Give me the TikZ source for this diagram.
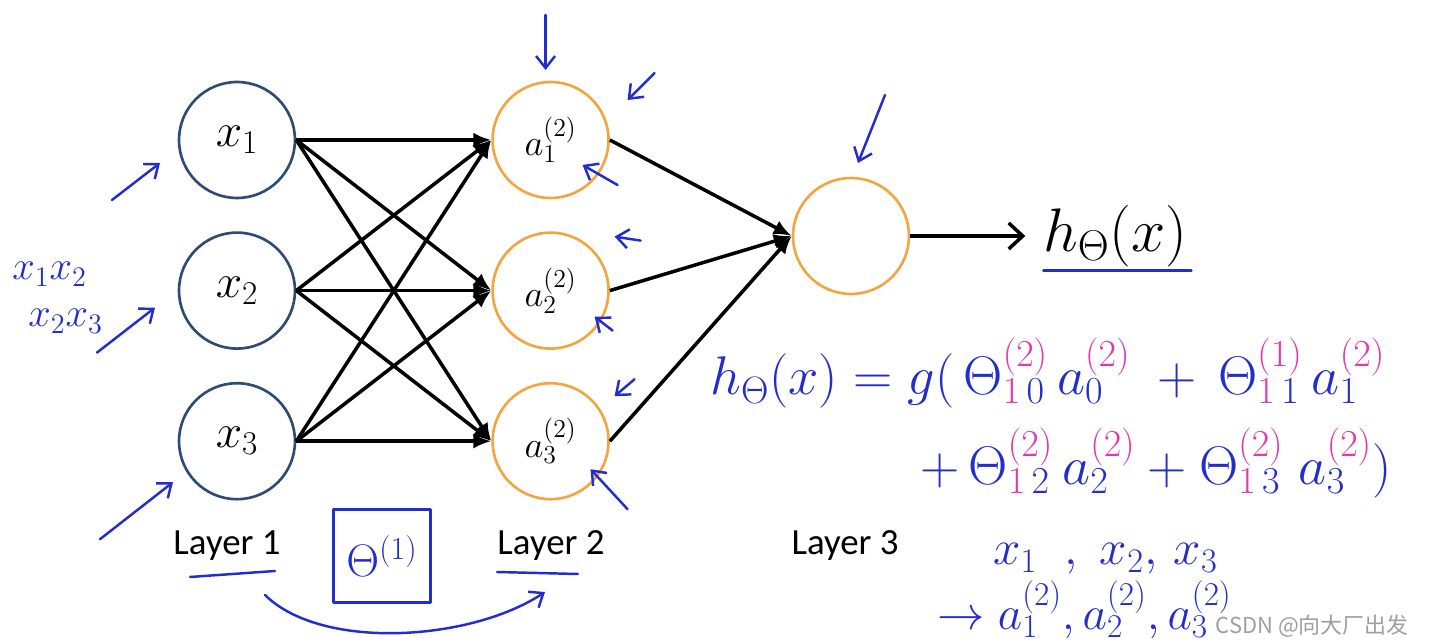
\RequirePackage{fix-cm}
\documentclass[tikz,border=0pt]{standalone}
\usepackage{fontspec}
\newfontfamily\calib{Carlito}
\newfontfamily\cjk{Noto Sans CJK SC}
\usetikzlibrary{positioning,arrows.meta,calc}
\definecolor{inblue}{RGB}{45,75,115}
\definecolor{hidorg}{RGB}{242,165,65}
\definecolor{pero}{RGB}{35,45,205}
\definecolor{rozova}{RGB}{225,55,175}
\newcommand\ruz[1]{{\color{rozova}#1}}
\tikzset{
  vstup/.style={circle,draw=inblue,line width=1.5pt,minimum size=2.32cm,inner sep=0pt,font=\fontsize{27}{32}\selectfont},
  skryty/.style={circle,draw=hidorg,line width=1.5pt,minimum size=2.32cm,inner sep=0pt,font=\fontsize{21}{25}\selectfont},
  sip/.style={-{Latex[length=3.6mm,width=3mm]},line width=2pt},
  vystup/.style={-{Straight Barb[length=2.8mm,width=5.2mm]},line width=2pt},
  vrstva/.style={font=\calib\fontsize{21}{25}\selectfont},
  pero/.style={draw=pero,line width=1.4pt,line cap=round,line join=round},
  sipka/.style={pero,-{Straight Barb[length=2.4mm,width=3.8mm]}},
  rukopis/.style={text=pero,inner sep=0pt,anchor=base west,font=\fontsize{31}{36}\selectfont},
}
\begin{document}
\begin{tikzpicture}[x=0.02cm,y=-0.02cm]
  \path[fill=white,use as bounding box] (0,0) rectangle (1430,644);
  % vrstvy site
  \node[vstup] (x1) at (237,140) {$x_1$};
  \node[vstup,below=0.64cm of x1] (x2) {$x_2$};
  \node[vstup,below=0.64cm of x2] (x3) {$x_3$};
  \node[skryty,right=3.9cm of x1] (a1) {$a_1^{(2)}$};
  \node[skryty,right=3.9cm of x2] (a2) {$a_2^{(2)}$};
  \node[skryty,right=3.9cm of x3] (a3) {$a_3^{(2)}$};
  \node[skryty] (out) at (851,236) {};
  \node[right=2.3cm of out,inner sep=10pt,font=\fontsize{35}{40}\selectfont] (hx) {$h_\Theta(x)$};
  \foreach \i in {1,2,3}{
    \foreach \j in {1,2,3} \draw[sip] (x\i.east) -- (a\j.west);
    \draw[sip] (a\i.east) -- (out.west);
  }
  \draw[vystup] (out.east) -- (hx.west);
  \node[vrstva] (l1) at (227,546) {Layer 1};
  \node[vrstva] (l2) at (551,546) {Layer 2};
  \node[vrstva] (l3) at (845,546) {Layer 3};
  % poznamky perem
  \foreach \n/\sx/\sy/\ex/\ey in {x1/-125/60/-77/23, x2/-140/62/-82/17, x3/-137/98/-64/41,
      a1/-5/-125/-5/-70, a1/104/-67/77/-40, a1/67/45/32/25, a2/90/-50/64/-54, a2/62/40/44/26,
      a3/84/-62/64/-45, a3/77/68/40/28, out/34/-141/7/-73}
    \draw[sipka] ($(\n)+(\sx,\sy)$) -- ($(\n)+(\ex,\ey)$);
  \draw[pero] ($(hx.south west)+(18,-14)$) -- ($(hx.south east)+(-14,-14)$);
  \draw[pero] ($(l1)+(-37,31)$) -- ($(l1)+(48,25)$);
  \draw[pero] ($(l2)+(-54,26)$) -- ($(l2)+(27,28)$);
  \node[pero,minimum width=1.94cm,minimum height=1.86cm,text=pero,font=\fontsize{26}{30}\selectfont] (tbox) at (382,556) {$\Theta^{(1)}$};
  \draw[sipka] ($(l1)+(38,49)$) .. controls ($(l1)+(95,105)$) and ($(l2)+(-80,95)$) .. ($(l2)+(-6,46)$);
  \node[rukopis,font=\fontsize{23}{27}\selectfont] (p12) at (12,280) {$x_1x_2$};
  \node[rukopis,font=\fontsize{23}{27}\selectfont] (p23) at (28,327) {$x_2x_3$};
  \node[rukopis] (rov1) at (710,395) {$h_\Theta(x) = g(\,\Theta^{\ruz{(2)}}_{\ruz{1}\,0}\,a^{\ruz{(2)}}_0 \;+\, \Theta^{\ruz{(1)}}_{\ruz{1}\,1}\,a^{\ruz{(2)}}_1$};
  \node[rukopis] (rov2) at (920,485) {$+\,\Theta^{\ruz{(2)}}_{\ruz{1}\,2}\,a^{\ruz{(2)}}_2 + \Theta^{\ruz{(2)}}_{\ruz{1}\,3}\;a^{\ruz{(2)}}_3)$};
  \node[rukopis,font=\fontsize{28}{32}\selectfont] (xs) at (993,565) {$x_1\;\;,\;x_2,\,x_3$};
  \node[rukopis,font=\fontsize{27}{31}\selectfont] (as) at (937,630) {$\rightarrow a^{(2)}_1, a^{(2)}_2, a^{(2)}_3$};
  \node[text=gray!75,font=\cjk\fontsize{12.5}{14}\selectfont,anchor=east] (wm) at (1415,626) {CSDN @向大厂出发};
\end{tikzpicture}
\end{document}
